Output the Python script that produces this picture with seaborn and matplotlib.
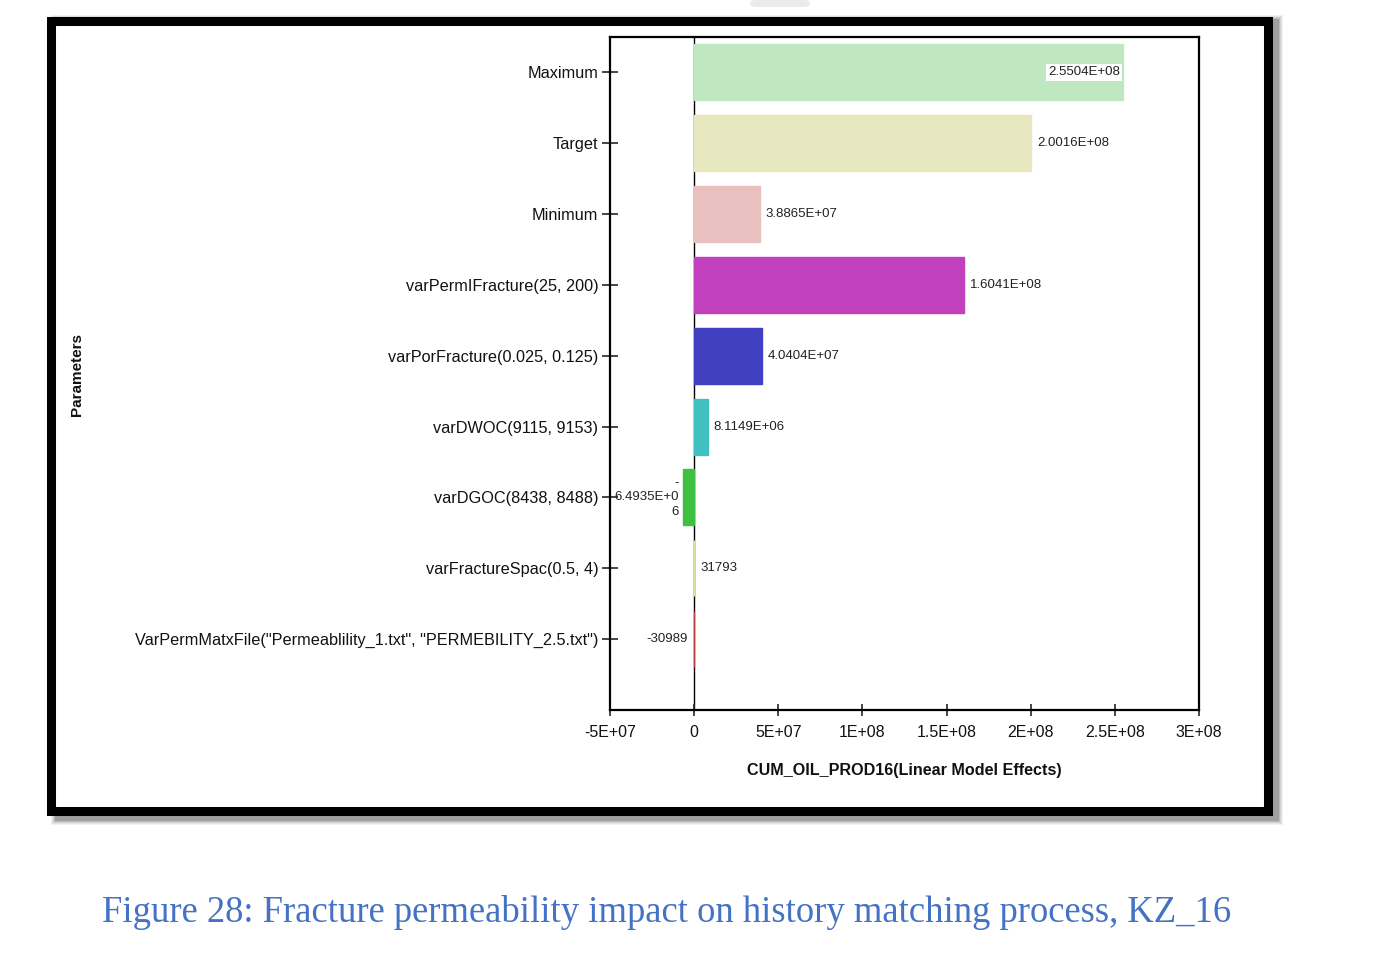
import matplotlib
matplotlib.use("Agg")
import matplotlib.pyplot as plt
import seaborn as sns
import pandas as pd
from matplotlib.patches import Rectangle, FancyBboxPatch

# ---- data ----
categories = ["Maximum", "Target", "Minimum", "varPermIFracture(25, 200)",
              "varPorFracture(0.025, 0.125)", "varDWOC(9115, 9153)",
              "varDGOC(8438, 8488)", "varFractureSpac(0.5, 4)",
              'VarPermMatxFile("Permeablility_1.txt", "PERMEBILITY_2.5.txt")']
values = [2.5504e8, 2.0016e8, 3.8865e7, 1.6041e8, 4.0404e7, 8.1149e6,
          -6.4935e6, 31793, -30989]
value_labels = ["2.5504E+08", "2.0016E+08", "3.8865E+07", "1.6041E+08",
                "4.0404E+07", "8.1149E+06", "-\n6.4935E+0\n6", "31793", "-30989"]
colors = ["#c0e8c0", "#e8e8c0", "#e8c0c0", "#c040be", "#4040c0", "#40c0c0",
          "#40c040", "#e0e0a0", "#c04040"]
xticks = [-5e7, 0, 5e7, 1e8, 1.5e8, 2e8, 2.5e8, 3e8]
xtick_labels = ["-5E+07", "0", "5E+07", "1E+08", "1.5E+08", "2E+08", "2.5E+08", "3E+08"]

sns.set_theme(style="white")
plt.rcParams["font.family"] = ["Liberation Sans", "DejaVu Sans"]

W, H = 1400, 971
fig = plt.figure(figsize=(W / 100, H / 100), dpi=100)

def fx(px):
    return px / W

def fy(py):
    return 1 - py / H

# gray tab at top
fig.patches.append(FancyBboxPatch((fx(750), fy(7)), fx(60), 7 / H,
                                  boxstyle="round,pad=0,rounding_size=0.004",
                                  transform=fig.transFigure, facecolor="#ebebeb",
                                  edgecolor="none", zorder=-3))

# soft shadow for outer frame (filled, offset to right/bottom)
for i, a in enumerate([0.05, 0.06, 0.08, 0.10, 0.14]):
    grow = 10 - i * 2
    fig.patches.append(Rectangle((fx(56 - grow / 2), fy(820 + grow / 2)),
                                 fx(1222 + grow), (800 + grow) / H,
                                 transform=fig.transFigure, facecolor="black",
                                 edgecolor="none", alpha=a, zorder=-3))
# outer frame (white filled)
fig.patches.append(Rectangle((fx(50.5), fy(810.5)), fx(1217), 789 / H,
                             transform=fig.transFigure, facecolor="white",
                             edgecolor="black", linewidth=6.5, zorder=-2))

ax = fig.add_axes([fx(610), fy(710), fx(1199 - 610), (710 - 37) / H])
ax.set_facecolor("white")
ax.set_zorder(1)

df = pd.DataFrame({"param": categories, "value": values})
sns.barplot(data=df, x="value", y="param", hue="param", palette=colors,
            legend=False, orient="h", width=0.79, ax=ax, saturation=1,
            linewidth=1.0, dodge=False)
for patch, c in zip(ax.patches, colors):
    patch.set_edgecolor(c)

ax.axvline(0, color="black", linewidth=1.0, zorder=0.5)

ax.set_xlim(-5e7, 3e8)
ax.set_ylim(9.0, -0.5)
ax.set_xticks(xticks)
ax.set_xticklabels(xtick_labels, fontsize=11.5)
ax.set_yticks(range(len(categories)))
ax.set_yticklabels(categories, fontsize=11.7, color="#111111")
ax.tick_params(axis="y", direction="inout", length=11, width=1.2, pad=3, left=True)
ax.tick_params(axis="x", direction="inout", length=8, width=1.2, pad=7, bottom=True,
               labelcolor="#111111")
for s in ax.spines.values():
    s.set_color("black")
    s.set_linewidth(1.6)

ax.set_xlabel("CUM_OIL_PROD16(Linear Model Effects)", fontsize=11.6,
              fontweight="bold", labelpad=16, color="#111111")
ax.set_ylabel("")
fig.text(fx(77), fy(374), "Parameters", rotation=90, fontsize=11,
         fontweight="bold", ha="center", va="center", color="#111111")

# value labels
for i, (v, lab) in enumerate(zip(values, value_labels)):
    if i == 0:
        ax.text(v - 0.2e7, i, lab, ha="right", va="center", fontsize=9.5,
                color="#222222",
                bbox=dict(facecolor="white", edgecolor="none", pad=1.5))
    elif v >= 0:
        ax.text(v + 0.35e7, i, lab, ha="left", va="center", fontsize=9.5,
                color="#222222")
    else:
        ax.text(v - 0.25e7 if v < -1e6 else -0.4e7, i, lab,
                ha="right", va="center", fontsize=9.5, color="#222222",
                multialignment="right", linespacing=1.3)

fig.text(fx(102), fy(912), "Figure 28: Fracture permeability impact on history matching process, KZ_16",
         fontsize=26.4, color="#4472c4", ha="left", va="center",
         family=["Liberation Serif", "DejaVu Serif"])

fig.savefig("out.png", dpi=100, facecolor="white")
